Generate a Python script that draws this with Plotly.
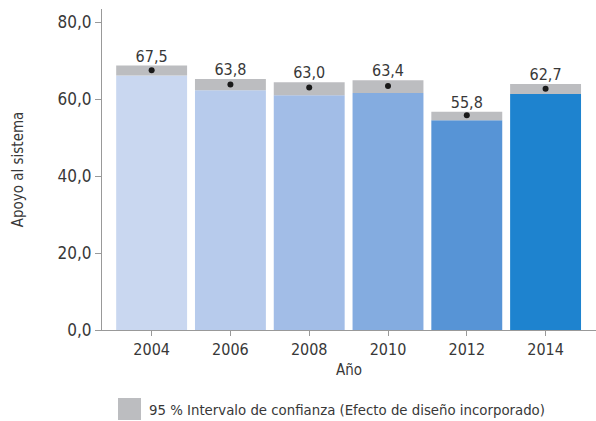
import plotly.graph_objects as go

years = ["2004", "2006", "2008", "2010", "2012", "2014"]
values = [67.5, 63.8, 63.0, 63.4, 55.8, 62.7]
ci_low = [66.1, 62.3, 61.0, 61.6, 54.5, 61.3]
ci_high = [68.7, 65.2, 64.4, 64.9, 56.7, 63.9]
bar_colors = ["#C9D7F0", "#B7CBEC", "#A2BDE7", "#84ACE0", "#5794D6", "#1E83CF"]
ci_color = "#BCBDC0"
legend_label = "95 % Intervalo de confianza (Efecto de diseño incorporado)"

FONT = "Liberation Sans Narrow, DejaVu Sans Condensed, Liberation Sans, sans-serif"
TXT = "#383838"

fig = go.Figure()
fig.add_trace(go.Bar(
    x=years, y=ci_low, marker=dict(color=bar_colors, line=dict(width=0)),
    showlegend=False, hoverinfo="skip"))
fig.add_trace(go.Bar(
    x=years, y=[h - l for h, l in zip(ci_high, ci_low)], base=ci_low,
    marker=dict(color=ci_color, line=dict(width=0)),
    name=legend_label, showlegend=False))
fig.add_trace(go.Scatter(
    x=years, y=values, mode="markers",
    marker=dict(color="#1a1a1a", size=6), showlegend=False))
fig.add_trace(go.Scatter(
    x=years, y=ci_high, mode="text",
    text=[f"{v:.1f}".replace(".", ",") for v in values],
    textposition="top center",
    textfont=dict(size=16, color=TXT, family=FONT), showlegend=False))

# legend (drawn manually to match the large swatch)
fig.add_shape(type="rect", xref="paper", yref="paper",
              x0=(118 - 102) / 494, x1=(141 - 102) / 494,
              y0=(330 - 420) / 321, y1=(330 - 398) / 321,
              fillcolor=ci_color, line=dict(width=0))
fig.add_annotation(xref="paper", yref="paper",
                   x=(147 - 102) / 494, y=(330 - 409) / 321,
                   xanchor="left", yanchor="middle", showarrow=False,
                   text=legend_label, font=dict(size=14.8, color=TXT, family=FONT))

fig.update_layout(
    width=596, height=421,
    margin=dict(l=102, r=0, t=9, b=91, autoexpand=False),
    barmode="overlay", bargap=0.1,
    plot_bgcolor="white", paper_bgcolor="white",
    separators=",.",
    showlegend=False,
    font=dict(family=FONT, color=TXT, size=16),
    xaxis=dict(
        range=[-0.63, 5.64], showline=True, linecolor="#999999", linewidth=1,
        ticks="outside", ticklen=5, tickcolor="#999999",
        tickfont=dict(size=16), automargin=False,
        title=dict(text="Año", font=dict(size=15), standoff=6)),
    yaxis=dict(
        range=[0, 83.4], tickvals=[0, 20, 40, 60, 80], tickformat=".1f",
        showline=True, linecolor="#999999", linewidth=1,
        ticks="outside", ticklen=6, tickcolor="#999999",
        showgrid=False, zeroline=False, automargin=False,
        tickfont=dict(size=17),
        title=dict(text="Apoyo al sistema", font=dict(size=15), standoff=30)),
)

fig.write_html("out.html", config={"displayModeBar": False},
               post_script="document.body.style.margin='0';")
